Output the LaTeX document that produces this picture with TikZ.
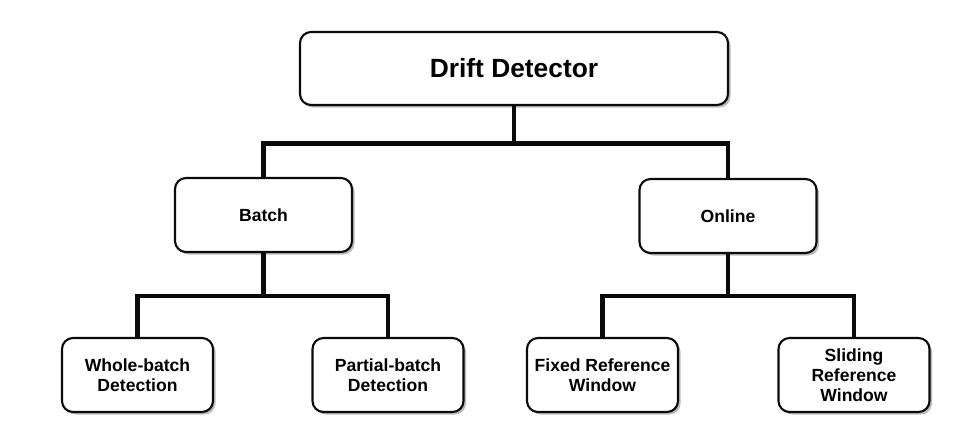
\documentclass[tikz,border=0pt]{standalone}
\usepackage{fontspec}
\setmainfont{Liberation Sans}
\usepackage{xcolor}
\usepackage{tikz}
\usetikzlibrary{shadows, calc}
\definecolor{cline}{RGB}{10, 10, 10}
\definecolor{cshadow}{RGB}{170, 170, 170}

\begin{document}
\begin{tikzpicture}[font=\bfseries,
  box/.style={draw=cline, line width=1.2pt, rounded corners=0.22cm, fill=white, align=center,
    inner sep=0pt, drop shadow={shadow xshift=0.05cm, shadow yshift=-0.05cm, fill=cshadow, opacity=0.8}},
  midbox/.style={box, minimum width=3.54cm, minimum height=1.48cm, font=\bfseries\fontsize{10}{11.5}\selectfont},
  leafbox/.style={box, minimum width=3.02cm, minimum height=1.48cm, font=\bfseries\fontsize{10}{11.5}\selectfont},
  link/.style={draw=cline, line width=2.4pt}]
  \useasboundingbox (0,0) rectangle (19.52,-8.62);
  % root
  \node[box, minimum width=8.56cm, minimum height=1.46cm, font=\bfseries\fontsize{15}{18}\selectfont]
    (drift) at (10.28,-1.37) {Drift Detector};
  % second level
  \node[midbox] (batch) at (5.27,-4.30) {Batch};
  \node[midbox] (online) at (14.56,-4.32) {Online};
  % leaves
  \node[leafbox] (whole) at (2.75,-7.50) {Whole-batch\\Detection};
  \node[leafbox] (partial) at (7.76,-7.50) {Partial-batch\\Detection};
  \node[leafbox] (fixed) at (12.05,-7.50) {Fixed Reference\\Window};
  \node[leafbox] (sliding) at (17.08,-7.50) {Sliding\\Reference\\Window};
  % junctions
  \coordinate (jtop) at (10.28,-2.87);
  \coordinate (jbatch) at (5.27,-5.92);
  \coordinate (jonline) at (14.56,-5.92);
  \draw[link] (drift.south) -- (jtop);
  \draw[link] (batch.north) |- (jtop) -| (online.north);
  \draw[link] (batch.south) -- (jbatch);
  \draw[link] (whole.north) |- (jbatch) -| (partial.north);
  \draw[link] (online.south) -- (jonline);
  \draw[link] (fixed.north) |- (jonline) -| (sliding.north);
\end{tikzpicture}
\end{document}
